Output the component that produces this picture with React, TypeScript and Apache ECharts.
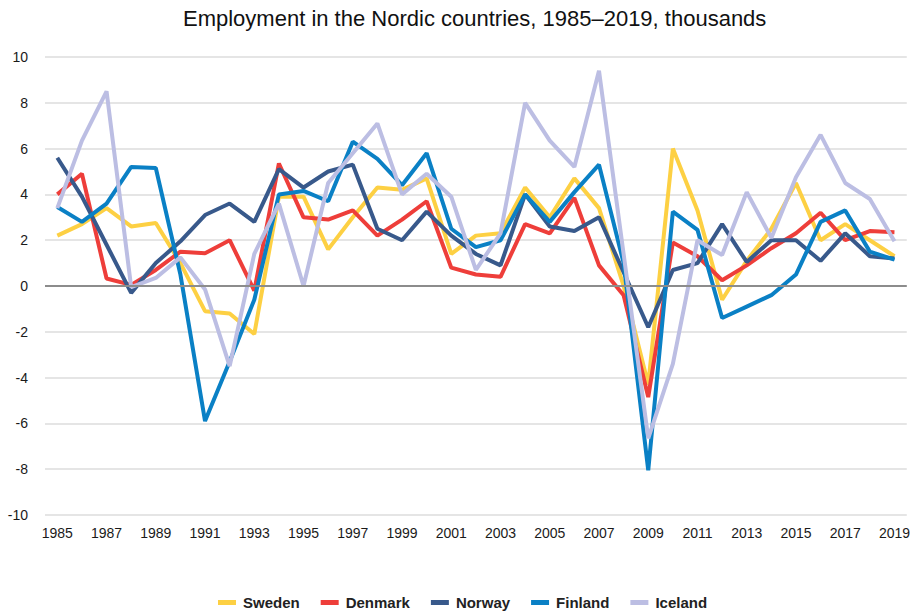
import React, { useEffect, useRef } from "react";
import * as echarts from "echarts";

const years: string[] = [];
for (let y = 1985; y <= 2019; y++) years.push(String(y));

const sweden = [2.2, 2.7, 3.4, 2.6, 2.75, 1.0, -1.1, -1.2, -2.1, 3.9, 3.9, 1.6, 3.0, 4.3, 4.2, 4.7, 1.4, 2.2, 2.3, 4.3, 3.0, 4.7, 3.4, 0.0, -4.3, 6.0, 3.3, -0.6, 1.1, 2.5, 4.5, 2.0, 2.7, 2.0, 1.3];
const denmark = [4.0, 4.9, 0.33, 0.05, 0.7, 1.5, 1.43, 2.0, -0.2, 5.35, 3.0, 2.9, 3.3, 2.2, 2.9, 3.7, 0.8, 0.5, 0.4, 2.7, 2.3, 3.85, 0.9, -0.4, -4.85, 1.9, 1.3, 0.25, 0.9, 1.65, 2.3, 3.2, 2.0, 2.4, 2.35];
const norway = [5.6, 3.9, 1.8, -0.3, 1.0, 1.95, 3.1, 3.6, 2.8, 5.1, 4.3, 5.0, 5.3, 2.5, 2.0, 3.25, 2.2, 1.4, 0.9, 4.0, 2.6, 2.4, 3.0, 0.6, -1.8, 0.7, 1.0, 2.7, 1.05, 2.0, 2.0, 1.1, 2.3, 1.3, 1.2];
const finland = [3.45, 2.8, 3.6, 5.2, 5.15, 0.5, -5.9, -3.3, -0.6, 4.0, 4.15, 3.7, 6.3, 5.55, 4.4, 5.8, 2.5, 1.7, 2.0, 4.0, 2.8, 4.1, 5.3, 1.0, -8.05, 3.25, 2.45, -1.4, -0.9, -0.4, 0.5, 2.8, 3.3, 1.5, 1.15];
const iceland = [3.4, 6.35, 8.5, -0.05, 0.35, 1.25, -0.15, -3.5, 1.4, 3.6, 0.0, 4.5, 5.8, 7.1, 4.0, 4.9, 3.9, 0.7, 2.3, 8.0, 6.35, 5.2, 9.4, 1.4, -6.65, -3.4, 2.0, 1.35, 4.1, 2.1, 4.75, 6.6, 4.5, 3.8, 1.95];

const seriesNames = ["Sweden", "Denmark", "Norway", "Finland", "Iceland"];
const seriesData = [sweden, denmark, norway, finland, iceland];
const colors = ["#FDD043", "#EE3E3A", "#38598B", "#0A80C5", "#BCBEE3"];

const FONT = "'Liberation Sans', Arial, sans-serif";

export default function App() {
  const ref = useRef<HTMLDivElement>(null);
  useEffect(() => {
    document.body.style.margin = "0";
    if (!ref.current) return;
    const chart = echarts.init(ref.current, undefined, { renderer: "svg" });
    const lines = seriesNames.map((name, i) => ({
      name,
      type: "line",
      data: seriesData[i],
      symbol: "none",
      showSymbol: false,
      z: 3,
      lineStyle: { color: colors[i], width: 4 },
      itemStyle: { color: colors[i] },
      emphasis: { disabled: true },
    }));
    chart.setOption({
      animation: false,
      backgroundColor: "#ffffff",
      title: {
        text: "Employment in the Nordic countries, 1985\u20132019, thousands",
        left: 178,
        top: 2,
        textStyle: { fontFamily: FONT, fontSize: 22, fontWeight: "normal", color: "#111" },
      },
      legend: {
        data: seriesNames,
        left: 213,
        top: 590,
        itemWidth: 18,
        itemHeight: 5,
        itemGap: 21,
        icon: "rect",
        textStyle: { fontFamily: FONT, fontSize: 15, fontWeight: "bold", color: "#222", padding: [0, 0, 0, 2] },
      },
      grid: { left: 45, right: 4, top: 57, bottom: 100, containLabel: false },
      xAxis: {
        type: "category",
        data: years,
        boundaryGap: true,
        axisLine: { show: false },
        axisTick: { show: false },
        axisLabel: { interval: 1, margin: 11, fontFamily: FONT, fontSize: 14, color: "#1a1a1a" },
        splitLine: { show: false },
      },
      yAxis: {
        type: "value",
        min: -10,
        max: 10,
        interval: 2,
        axisLine: { show: false },
        axisTick: { show: false },
        axisLabel: { margin: 17, fontFamily: FONT, fontSize: 14, color: "#1a1a1a" },
        splitLine: { lineStyle: { color: "#dcdcdc", width: 1.5 } },
      },
      series: [
        {
          name: "_zero",
          type: "line",
          data: [],
          z: 2,
          markLine: {
            silent: true,
            symbol: ["none", "none"],
            label: { show: false },
            lineStyle: { color: "#8c8c8c", width: 2, type: "solid" },
            data: [{ yAxis: 0 }],
          },
        },
        ...lines,
      ],
    });
    return () => chart.dispose();
  }, []);
  return <div ref={ref} style={{ width: 913, height: 615 }} />;
}
